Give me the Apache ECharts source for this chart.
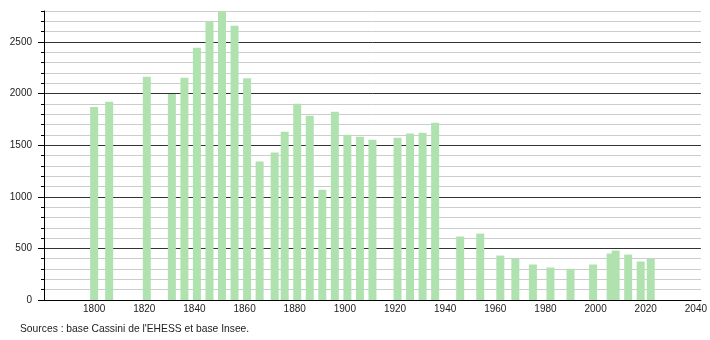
<!DOCTYPE html>
<html>
<head>
<meta charset="utf-8">
<script src="https://cdn.jsdelivr.net/npm/echarts@6/dist/echarts.min.js"></script>
<style>
html,body{margin:0;padding:0;background:#fff;}
#c{width:710px;height:340px;}
</style>
</head>
<body>
<div id="c"></div>
<script>
const years = [1800,1806,1821,1831,1836,1841,1846,1851,1856,1861,1866,1872,1876,1881,1886,1891,1896,1901,1906,1911,1921,1926,1931,1936,1946,1954,1962,1968,1975,1982,1990,1999,2006,2008,2013,2018,2022];
const population = [1870,1920,2164,1995,2154,2444,2699,2800,2657,2149,1341,1428,1631,1902,1786,1069,1825,1602,1582,1553,1573,1612,1621,1718,615,644,431,398,344,315,302,344,450,479,440,373,399];
const yTickLabels = [0,500,1000,1500,2000,2500];
const xTickLabels = [1800,1820,1840,1860,1880,1900,1920,1940,1960,1980,2000,2020,2040];
const sourceText = "Sources : base Cassini de l'EHESS et base Insee.";

const chart = echarts.init(document.getElementById('c'), null, {renderer:'canvas'});
const font = 'Liberation Sans, Arial, sans-serif';
const minorColors = [];
for (let i = 0; i < 5; i++) minorColors.push(i === 0 ? '#333333' : '#cccccc');

chart.setOption({
  animation: false,
  backgroundColor: '#ffffff',
  grid: {left: 44, right: 9, top: 11, bottom: 40, containLabel: false},
  graphic: [{
    type: 'text', left: 20, top: 324,
    style: {text: sourceText, font: '10.3px ' + font, fill: '#222'}
  }],
  xAxis: {
    type: 'value', min: 1780, max: 2042, interval: 20,
    axisLine: {show: true, lineStyle: {color: '#000', width: 1}},
    axisTick: {show: false},
    splitLine: {show: false},
    axisLabel: {
      customValues: xTickLabels,
      color: '#222', fontSize: 10, fontFamily: font, margin: 4,
      formatter: v => String(v)
    }
  },
  yAxis: [{
    type: 'value', min: 0, max: 2800, interval: 100,
    axisLine: {show: true, lineStyle: {color: '#000', width: 1}},
    axisTick: {show: true, length: 3, lineStyle: {color: '#000'}},
    axisLabel: {show: false},
    splitLine: {show: true, lineStyle: {color: minorColors, width: 1}}
  }, {
    type: 'value', min: 0, max: 2800, interval: 500, position: 'left',
    axisLine: {show: false},
    axisTick: {show: true, length: 6, customValues: yTickLabels, lineStyle: {color: '#000'}},
    axisLabel: {customValues: yTickLabels, color: '#222', fontSize: 10, fontFamily: font, margin: 12, formatter: v => String(v)},
    splitLine: {show: false}
  }],
  series: [{
    type: 'bar',
    yAxisIndex: 0,
    barWidth: 8,
    data: years.map((y, i) => [y, population[i]]),
    itemStyle: {color: '#b0e2b0'},
    z: 3
  }]
});
</script>
</body>
</html>
